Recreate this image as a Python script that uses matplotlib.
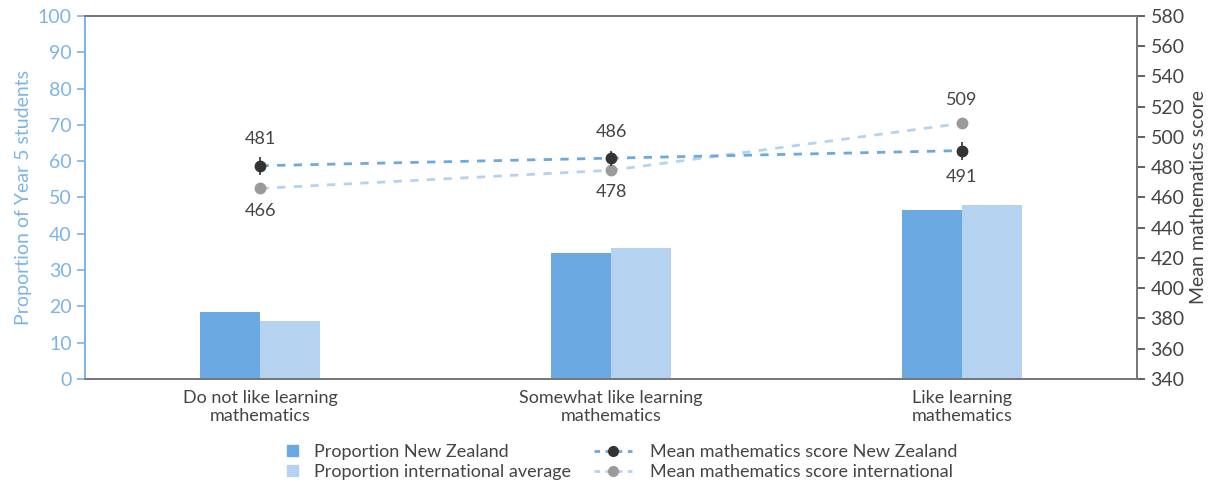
import matplotlib
matplotlib.use("Agg")
import matplotlib.pyplot as plt
import numpy as np
from matplotlib.lines import Line2D
from matplotlib.patches import Patch, Rectangle
from matplotlib.legend_handler import HandlerPatch

plt.rcParams['font.family'] = ['Lato', 'DejaVu Sans']

categories = ['Do not like learning\nmathematics', 'Somewhat like learning\nmathematics', 'Like learning\nmathematics']
prop_nz = [18.5, 34.7, 46.6]
prop_intl = [16.0, 36.0, 47.9]
score_nz = [481, 486, 491]
score_nz_err = [6, 5, 6]
score_intl = [466, 478, 509]

c_nz = '#6aa9e2'
c_intl = '#b5d3f1'
c_axis = '#7db4e6'
c_gray = '#777777'
c_text = '#444444'


def square_patch(legend, orig_handle, xdescent, ydescent, width, height, fontsize):
    # small square at the right end of the handle box, like the original legend
    s = 8
    return Rectangle((width - xdescent - s + 2, (height - s) / 2 - ydescent), s, s)


fig = plt.figure(figsize=(12.15, 4.84), dpi=100)
ax = fig.add_axes([0.070, 0.217, 0.866, 0.750])
ax2 = ax.twinx()

x = np.arange(len(categories))
w = 0.171
ax.bar(x - w / 2, prop_nz, w, color=c_nz, zorder=2)
ax.bar(x + w / 2, prop_intl, w, color=c_intl, zorder=2)

ax.set_xlim(-0.5, 2.5)
ax.set_ylim(0, 100)
ax.set_yticks(range(0, 101, 10))
ax.set_xticks(x)
ax.set_xticklabels(categories, fontsize=13, color=c_text, linespacing=1.15)
ax.tick_params(axis='x', length=0, pad=8)
ax.tick_params(axis='y', colors=c_axis, labelsize=14, length=6, width=1.2)
ax.set_ylabel('Proportion of Year 5 students', color=c_axis, fontsize=14, labelpad=4)

ax2.set_ylim(340, 580)
ax2.set_yticks(range(340, 581, 20))
ax2.tick_params(axis='y', colors=c_text, labelsize=14, length=6, width=1.2)
ax2.set_ylabel('Mean mathematics score', color=c_text, fontsize=14, labelpad=4)

ax2.plot(x, score_intl, linestyle=(0, (3, 3)), color=c_intl, lw=2, zorder=3)
ax2.plot(x, score_nz, linestyle=(0, (3, 3)), color=c_nz, lw=2, zorder=3)
ax2.errorbar(x, score_intl, fmt='o', color='#9a9a9a', ms=7.5, zorder=4)
ax2.errorbar(x, score_nz, yerr=score_nz_err, fmt='o', color='#333333', ecolor='#333333',
             elinewidth=1.2, ms=7.5, zorder=5)

for i in range(len(categories)):
    if score_nz[i] >= score_intl[i]:
        nz_off, intl_off = 19, -16
    else:
        nz_off, intl_off = -19, 17
    ax2.annotate(str(score_nz[i]), (x[i], score_nz[i]), xytext=(0, nz_off),
                 textcoords='offset points', ha='center', va='center', fontsize=13, color=c_text)
    ax2.annotate(str(score_intl[i]), (x[i], score_intl[i]), xytext=(0, intl_off),
                 textcoords='offset points', ha='center', va='center', fontsize=13, color=c_text)

for a in (ax, ax2):
    a.spines['top'].set_color(c_gray)
    a.spines['bottom'].set_color(c_gray)
    a.spines['right'].set_color(c_gray)
    a.spines['left'].set_color(c_axis)
    for s in a.spines.values():
        s.set_linewidth(1.3)

handles = [
    Patch(color=c_nz),
    Patch(color=c_intl),
    Line2D([0], [0], color=c_nz, ls=(0, (2, 2)), lw=2, marker='o', mfc='#333333', mec='#333333', ms=7),
    Line2D([0], [0], color=c_intl, ls=(0, (2, 2)), lw=2, marker='o', mfc='#9a9a9a', mec='#9a9a9a', ms=7),
]
labels = ['Proportion New Zealand', 'Proportion international average',
          'Mean mathematics score New Zealand', 'Mean mathematics score international']
fig.legend(handles, labels, ncol=2, loc='lower center', bbox_to_anchor=(0.5, -0.025),
           frameon=False, fontsize=13, labelcolor=c_text, handlelength=2.1,
           columnspacing=1.3, labelspacing=0.2, handletextpad=1.0,
           handler_map={Patch: HandlerPatch(patch_func=square_patch)})

fig.savefig('out.png', dpi=100)
